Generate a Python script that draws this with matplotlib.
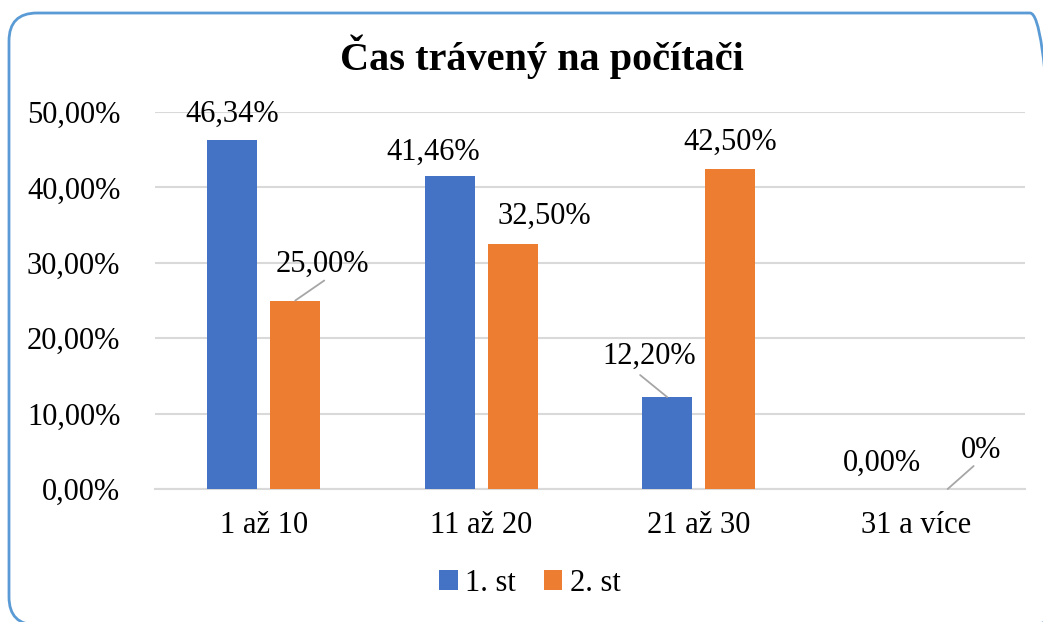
import numpy as np
import matplotlib
matplotlib.use("Agg")
import matplotlib.pyplot as plt
from matplotlib.patches import FancyBboxPatch

plt.rcParams['font.family'] = ['Liberation Serif', 'DejaVu Serif']

# data
categories = ['1 až 10', '11 až 20', '21 až 30', '31 a více']
series_names = ['1. st', '2. st']
st1 = [46.34, 41.46, 12.20, 0.00]
st2 = [25.00, 32.50, 42.50, 0.00]
labels_st1 = ['46,34%', '41,46%', '12,20%', '0,00%']
labels_st2 = ['25,00%', '32,50%', '42,50%', '0%']

# label text offsets in pixels (dx, dy up) and leader start offsets (None = no leader)
offs_st1 = [(0, 25), (-16, 24), (-18, 41), (-3, 26)]
offs_st2 = [(27, 36), (32, 28), (0, 26), (33, 39)]
lead_st1 = [None, None, (-27, 22), None]
lead_st2 = [(29, 20), None, None, (26, 23)]

blue = '#4472C4'
orange = '#ED7D31'
fs = 22

fig = plt.figure(figsize=(10.43, 6.22), dpi=100)
ax = fig.add_axes([0.1486, 0.2138, 0.834, 0.6061])

x = np.arange(len(categories))
w = 0.23
b1 = ax.bar(x - 0.145, st1, w, color=blue, label=series_names[0], zorder=3)
b2 = ax.bar(x + 0.145, st2, w, color=orange, label=series_names[1], zorder=3)

ax.set_xlim(-0.5, len(categories) - 0.5)
ax.set_ylim(0, 50)
ax.set_yticks(np.arange(0, 51, 10))
ax.set_yticklabels([f'{v:.2f}%'.replace('.', ',') for v in np.arange(0, 51, 10)])
ax.set_xticks(x)
ax.set_xticklabels(categories)
ax.tick_params(axis='both', length=0, labelsize=fs, colors='black')
ax.tick_params(axis='x', pad=16)
ax.tick_params(axis='y', pad=25)
ax.grid(axis='y', color='#D9D9D9', linewidth=1.5, zorder=0)
for s in ['top', 'right', 'left']:
    ax.spines[s].set_visible(False)
ax.spines['bottom'].set_color('#D9D9D9')
ax.spines['bottom'].set_linewidth(1.5)

def add_labels(bars, vals, labels, offs, leads):
    for b, v, lab, (dx, dy), ld in zip(bars, vals, labels, offs, leads):
        xc = b.get_x() + b.get_width() / 2
        ax.annotate(lab, xy=(xc, v), xytext=(dx * 0.72, dy * 0.72),
                    textcoords='offset points', ha='center', va='center',
                    fontsize=fs, annotation_clip=False)
        if ld is not None:
            ax.annotate('', xy=(xc, v), xytext=(ld[0] * 0.72, ld[1] * 0.72),
                        textcoords='offset points', annotation_clip=False,
                        arrowprops=dict(arrowstyle='-', color='#A6A6A6', lw=1.3,
                                        shrinkA=0, shrinkB=0))

add_labels(b1, st1, labels_st1, offs_st1, lead_st1)
add_labels(b2, st2, labels_st2, offs_st2, lead_st2)

fig.text(0.52, 0.908, 'Čas trávený na počítači', ha='center', va='center',
         fontsize=29, fontweight='bold')

ax.legend(loc='center', bbox_to_anchor=(0.508, 0.062), bbox_transform=fig.transFigure,
          ncol=2, frameon=False, fontsize=fs, handlelength=0.6, handleheight=0.6,
          handletextpad=0.25, columnspacing=0.9)

border = FancyBboxPatch((0.09, -0.03), 10.49, 6.12, transform=fig.dpi_scale_trans,
                        boxstyle='round,pad=0,rounding_size=0.28',
                        facecolor='none', edgecolor='#5B9BD5', linewidth=2)
fig.patches.append(border)

fig.savefig('out.png', dpi=100)
